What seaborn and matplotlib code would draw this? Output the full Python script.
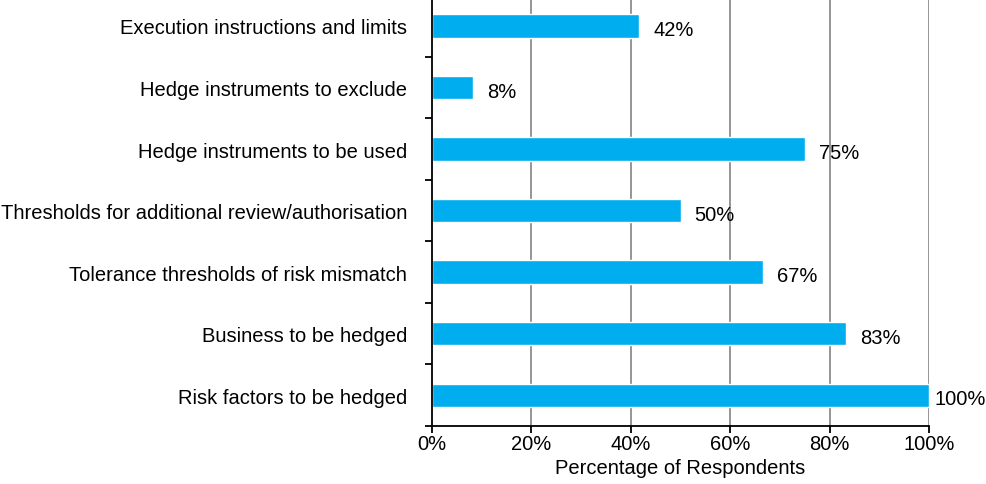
import numpy as np
import pandas as pd
import matplotlib
matplotlib.use("Agg")
import matplotlib.pyplot as plt
import seaborn as sns
from matplotlib.ticker import FixedLocator

categories = [
    "Execution instructions and limits",
    "Hedge instruments to exclude",
    "Hedge instruments to be used",
    "Thresholds for additional review/authorisation",
    "Tolerance thresholds of risk mismatch",
    "Business to be hedged",
    "Risk factors to be hedged",
]
percent = [41.7, 8.3, 75.0, 50.0, 66.7, 83.3, 100.0]
x_ticks = [0, 20, 40, 60, 80, 100]

sns.set_style("white")
plt.rcParams['font.family'] = ['Liberation Sans', 'DejaVu Sans']
plt.rcParams['text.color'] = 'black'
plt.rcParams['xtick.color'] = 'black'
plt.rcParams['ytick.color'] = 'black'
plt.rcParams['axes.labelcolor'] = 'black'

FS = 14.5

df = pd.DataFrame({"item": categories, "pct": percent})

fig, ax = plt.subplots(figsize=(9.87, 4.85), dpi=100)
fig.subplots_adjust(left=432/987, right=929/987, top=1.008, bottom=1 - 427/485)

# grid first so bars sit on top
for x in x_ticks[1:]:
    ax.axvline(x, color="#8c8c8c", lw=1.3, zorder=0)

sns.barplot(data=df, x="pct", y="item", orient="h", color="#00AEEF",
            saturation=1, width=0.38, ax=ax, zorder=2)

for i, v in enumerate(percent):
    off = 1.2 if v >= 100 else 2.8  # last label squeezed against the edge
    ax.text(v + off, i + 0.06, f"{v:.0f}%", va="center", ha="left",
            fontsize=FS, color="black", clip_on=False)

ax.set_xlim(0, 100)
ax.set_ylim(len(categories) - 0.5, -0.5)
ax.set_xticks(x_ticks)
ax.set_xticklabels([f"{t}%" for t in x_ticks], fontsize=FS)
ax.set_xlabel("Percentage of Respondents", fontsize=FS, labelpad=4)
ax.set_ylabel("")
ax.tick_params(axis="y", which="major", length=0, labelsize=FS, pad=18)
ax.yaxis.set_minor_locator(FixedLocator(np.arange(len(categories)) + 0.5))
ax.tick_params(axis="y", which="minor", length=5, width=1.3, color="black", left=True)
ax.tick_params(axis="x", which="major", length=5, width=1.3, color="black", bottom=True, pad=0.5)

for side in ["top", "right"]:
    ax.spines[side].set_visible(False)
for side in ["left", "bottom"]:
    ax.spines[side].set_color("black")
    ax.spines[side].set_linewidth(1.3)

plt.savefig("out.png", dpi=100)
